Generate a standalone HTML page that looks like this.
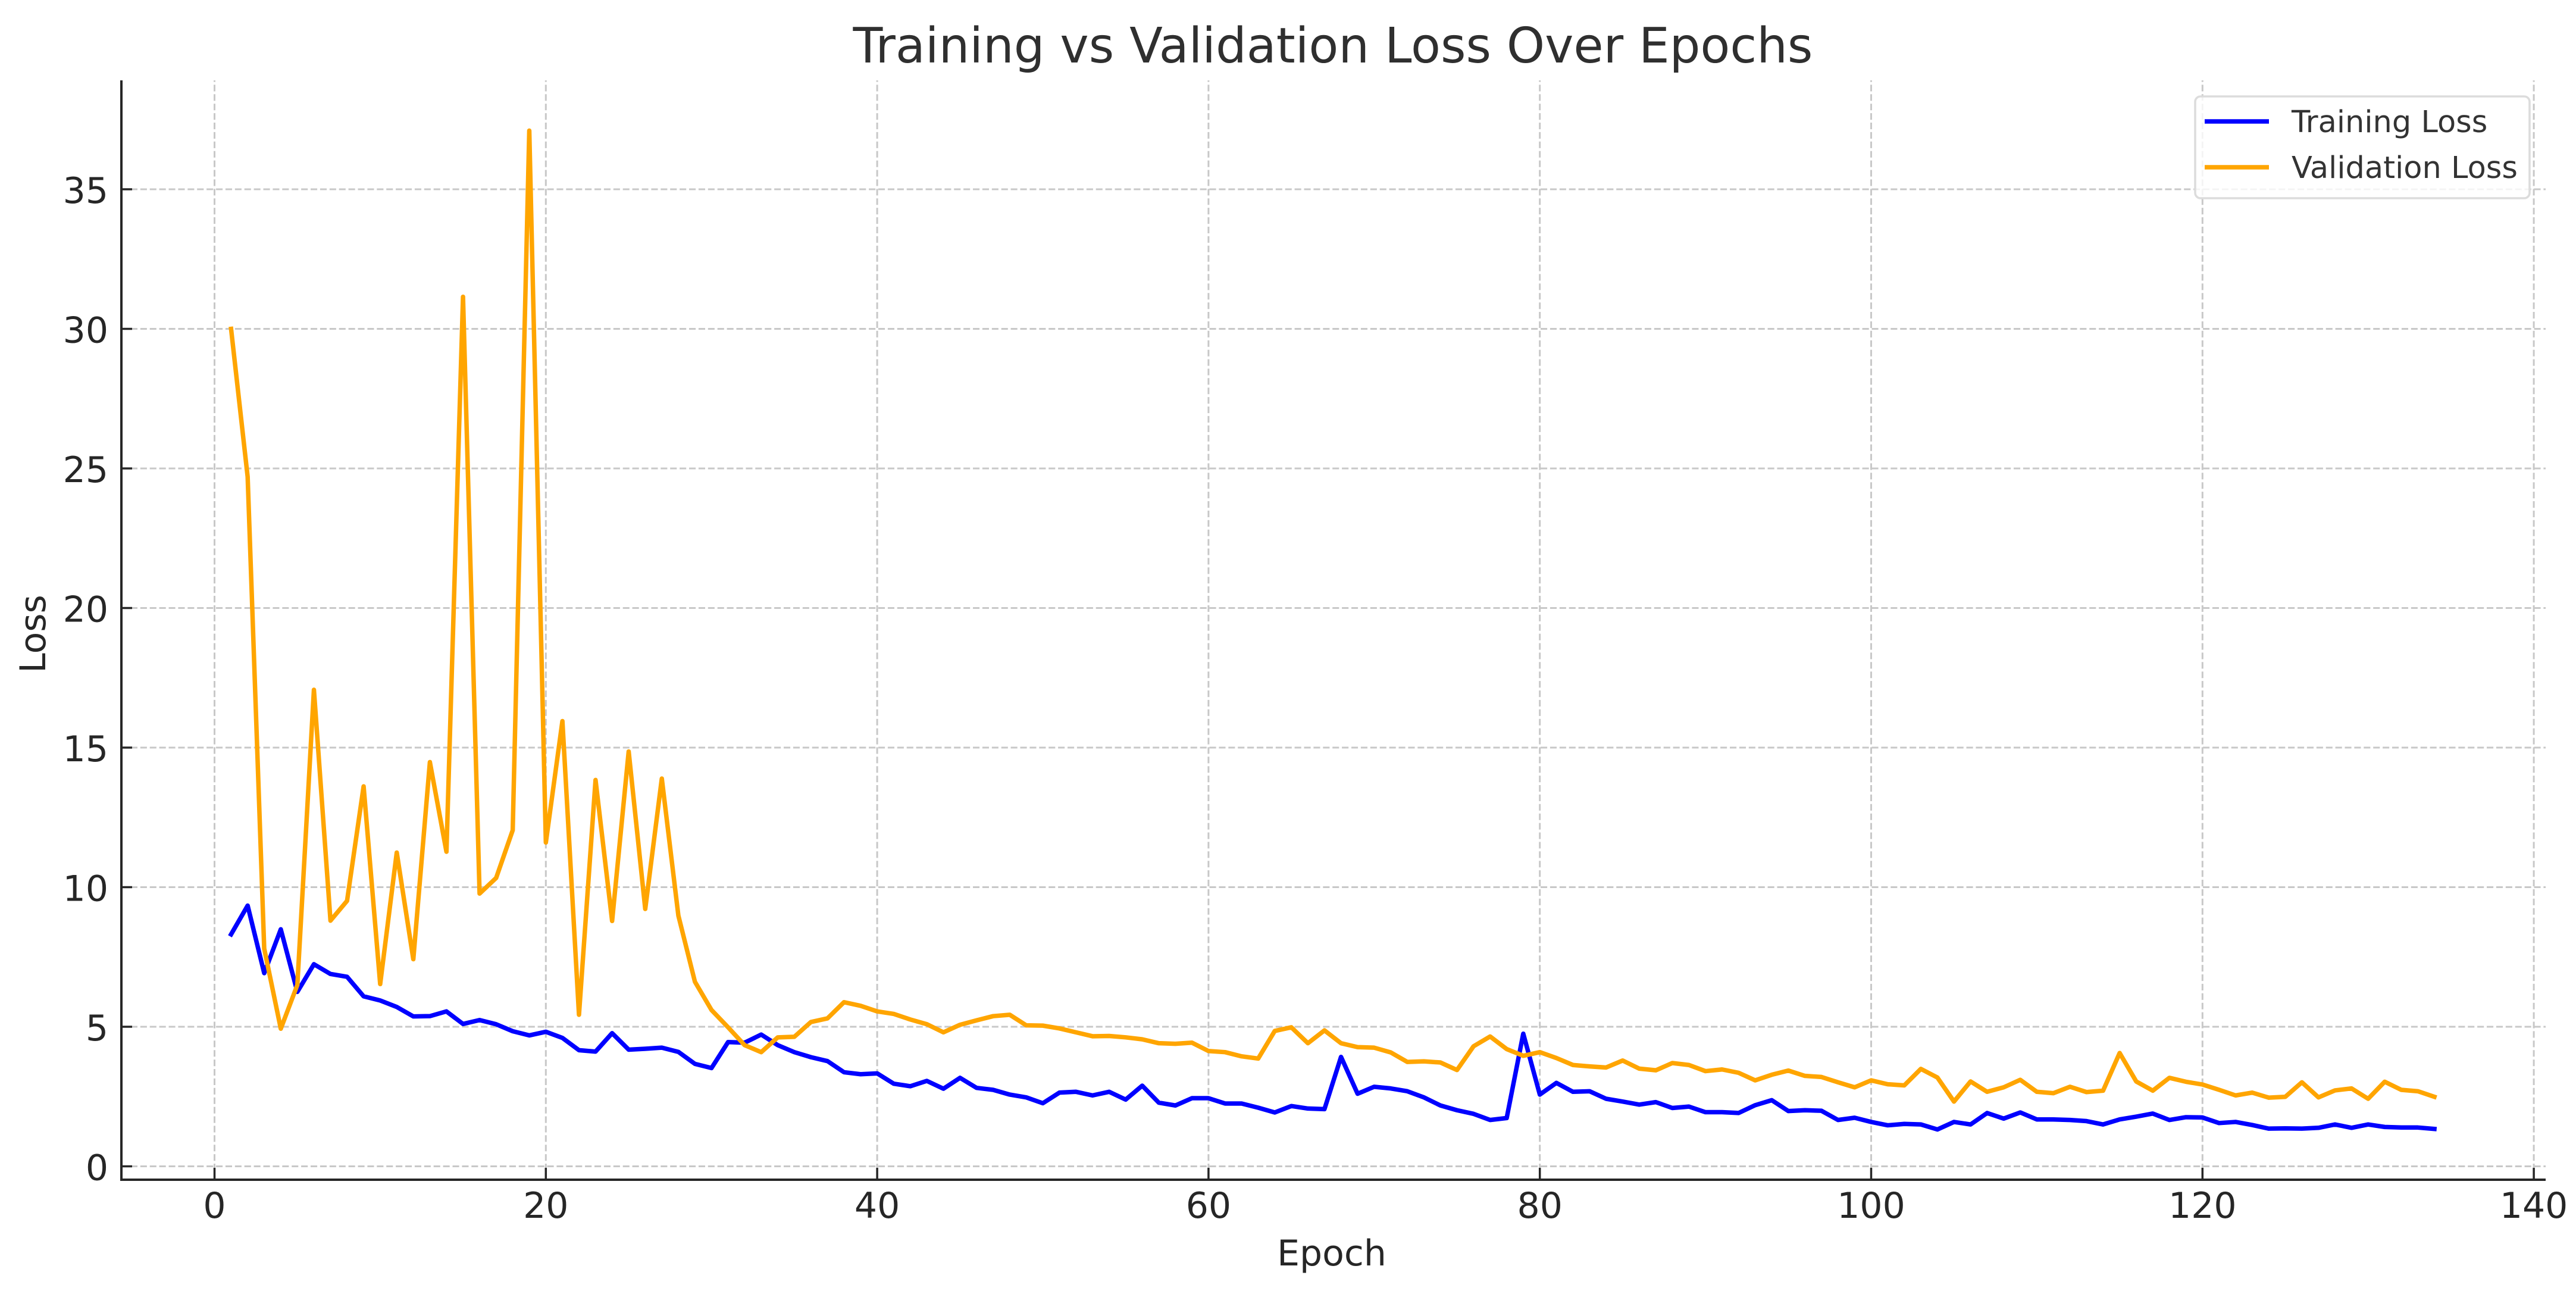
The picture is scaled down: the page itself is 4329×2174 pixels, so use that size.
<!DOCTYPE html>
<html lang="en">
<head>
<meta charset="utf-8">
<title>Training vs Validation Loss Over Epochs</title>
<style>
html,body{margin:0;padding:0;background:#fff;width:4329px;height:2174px;overflow:hidden}
svg{display:block}
text{font-family:"DejaVu Sans","Liberation Sans",sans-serif}
</style>
</head>
<body>
<svg id="chart" xmlns="http://www.w3.org/2000/svg" width="4329" height="2174" viewBox="0 0 4329 2174">
  <rect x="0" y="0" width="4329" height="2174" fill="#ffffff"/>
  <g id="grid"></g>
  <g id="series"></g>
  <g id="axes"></g>
  <text x="2240" y="105" font-size="81.6" fill="#2f2f2f" text-anchor="middle">Training vs Validation Loss Over Epochs</text>
  <text x="2238" y="2126" font-size="60" fill="#262626" text-anchor="middle">Epoch</text>
  <text transform="translate(76 1065) rotate(-90)" font-size="60" fill="#262626" text-anchor="middle">Loss</text>
  <g>
    <rect x="3689" y="162" width="562" height="171" rx="9" ry="9" fill="#ffffff" fill-opacity="0.8" stroke="#dcdcdc" stroke-width="3.6"/>
    <line x1="3705" y1="204" x2="3813" y2="204" stroke="#0000ff" stroke-width="7.5"/>
    <text x="3851" y="222" font-size="51" fill="#333333">Training Loss</text>
    <line x1="3705" y1="281" x2="3813" y2="281" stroke="#ffa500" stroke-width="7.5"/>
    <text x="3851" y="299" font-size="51" fill="#333333">Validation Loss</text>
  </g>
</svg>
<script>
const xTicks = [0, 20, 40, 60, 80, 100, 120, 140];
const yTicks = [0, 5, 10, 15, 20, 25, 30, 35];
const trainingLoss = [
  8.31, 9.34, 6.92, 8.49, 6.25, 7.24, 6.89, 6.79, 6.09, 5.94,
  5.71, 5.37, 5.38, 5.55, 5.10, 5.24, 5.09, 4.84, 4.69, 4.82,
  4.60, 4.16, 4.11, 4.77, 4.18, 4.21, 4.25, 4.10, 3.67, 3.52,
  4.45, 4.43, 4.72, 4.34, 4.09, 3.91, 3.77, 3.37, 3.30, 3.33,
  2.96, 2.87, 3.06, 2.78, 3.17, 2.81, 2.74, 2.57, 2.47, 2.26,
  2.64, 2.67, 2.54, 2.67, 2.39, 2.89, 2.28, 2.18, 2.44, 2.44,
  2.25, 2.25, 2.10, 1.93, 2.16, 2.07, 2.05, 3.92, 2.60, 2.85,
  2.79, 2.69, 2.47, 2.18, 2.01, 1.88, 1.66, 1.73, 4.75, 2.57,
  2.99, 2.67, 2.69, 2.42, 2.32, 2.21, 2.30, 2.09, 2.14, 1.94,
  1.94, 1.91, 2.19, 2.37, 1.98, 2.01, 1.99, 1.66, 1.74, 1.59,
  1.47, 1.52, 1.50, 1.32, 1.59, 1.50, 1.91, 1.71, 1.93, 1.68,
  1.68, 1.66, 1.62, 1.50, 1.68, 1.78, 1.89, 1.66, 1.76, 1.75,
  1.55, 1.59, 1.48, 1.35, 1.36, 1.35, 1.38, 1.50, 1.38, 1.50,
  1.41, 1.39, 1.39, 1.34
];
const validationLoss = [
  30.00, 24.70, 7.80, 4.93, 6.50, 17.07, 8.80, 9.51, 13.61, 6.53,
  11.24, 7.42, 14.48, 11.27, 31.15, 9.77, 10.33, 12.04, 37.10, 11.60,
  15.95, 5.43, 13.84, 8.79, 14.86, 9.22, 13.89, 8.98, 6.61, 5.60,
  4.98, 4.34, 4.09, 4.62, 4.64, 5.17, 5.30, 5.88, 5.75, 5.55,
  5.46, 5.26, 5.09, 4.80, 5.07, 5.23, 5.38, 5.43, 5.05, 5.04,
  4.94, 4.80, 4.66, 4.67, 4.62, 4.55, 4.41, 4.39, 4.43, 4.13,
  4.09, 3.94, 3.86, 4.85, 4.98, 4.41, 4.87, 4.41, 4.27, 4.25,
  4.08, 3.74, 3.76, 3.72, 3.45, 4.30, 4.65, 4.20, 3.96, 4.09,
  3.88, 3.63, 3.58, 3.54, 3.79, 3.50, 3.44, 3.70, 3.63, 3.41,
  3.47, 3.35, 3.08, 3.28, 3.43, 3.24, 3.20, 3.01, 2.83, 3.08,
  2.94, 2.90, 3.49, 3.18, 2.32, 3.04, 2.67, 2.83, 3.10, 2.67,
  2.62, 2.85, 2.66, 2.71, 4.06, 3.04, 2.71, 3.17, 3.03, 2.93,
  2.74, 2.54, 2.64, 2.46, 2.49, 3.01, 2.47, 2.72, 2.79, 2.42,
  3.03, 2.74, 2.69, 2.49
];

const SVG_NS = 'http://www.w3.org/2000/svg';
const plotLeft = 204, plotRight = 4278, plotTop = 135, plotBottom = 1982;
function xScale(epoch) { return 360.5 + 27.84 * epoch; }
function yScale(loss) { return 1959.5 - 46.9 * loss; }
function make(tag, attrs) {
  const el = document.createElementNS(SVG_NS, tag);
  for (const k in attrs) el.setAttribute(k, attrs[k]);
  return el;
}
const gridGroup = document.getElementById('grid');
const axesGroup = document.getElementById('axes');
const seriesGroup = document.getElementById('series');
const gridStyle = { stroke: '#c8c8c8', 'stroke-width': 3, 'stroke-dasharray': '11.1 4.8', fill: 'none' };
const inkColor = '#262626';

xTicks.forEach(function (t) {
  const x = xScale(t);
  const grid = make('line', Object.assign({ x1: x, x2: x, y1: plotBottom, y2: plotTop }, gridStyle));
  
  
  gridGroup.appendChild(grid);
  const tick = make('line', { x1: x, x2: x, y1: plotBottom, y2: plotBottom - 20, stroke: inkColor, 'stroke-width': 3.5 });
  
  
  axesGroup.appendChild(tick);
  const label = make('text', { x: x, y: 2046, 'font-size': 60, fill: inkColor, 'text-anchor': 'middle' });
  
  
  label.textContent = String(t);
  axesGroup.appendChild(label);
});

yTicks.forEach(function (t) {
  const y = yScale(t);
  const grid = make('line', Object.assign({ x1: plotLeft, x2: plotRight, y1: y, y2: y }, gridStyle));
  
  
  gridGroup.appendChild(grid);
  const tick = make('line', { x1: plotLeft, x2: plotLeft + 18, y1: y, y2: y, stroke: inkColor, 'stroke-width': 3.5 });
  
  
  axesGroup.appendChild(tick);
  const label = make('text', { x: 182, y: y + 23, 'font-size': 60, fill: inkColor, 'text-anchor': 'end' });
  
  
  label.textContent = String(t);
  axesGroup.appendChild(label);
});

const leftSpine = make('line', { x1: plotLeft, x2: plotLeft, y1: plotTop, y2: plotBottom + 2, stroke: inkColor, 'stroke-width': 4 });


axesGroup.appendChild(leftSpine);
const bottomSpine = make('line', { x1: plotLeft - 2, x2: plotRight, y1: plotBottom, y2: plotBottom, stroke: inkColor, 'stroke-width': 4 });


axesGroup.appendChild(bottomSpine);

function linePoints(values) {
  return values.map(function (v, i) {
    return xScale(i + 1).toFixed(2) + ',' + yScale(v).toFixed(2);
  }).join(' ');
}
const lineStyle = { fill: 'none', 'stroke-width': 7.5, 'stroke-linejoin': 'round', 'stroke-linecap': 'square' };
const trainingLine = make('polyline', Object.assign({ points: linePoints(trainingLoss), stroke: '#0000ff' }, lineStyle));


seriesGroup.appendChild(trainingLine);
const validationLine = make('polyline', Object.assign({ points: linePoints(validationLoss), stroke: '#ffa500' }, lineStyle));


seriesGroup.appendChild(validationLine);
</script>
</body>
</html>
